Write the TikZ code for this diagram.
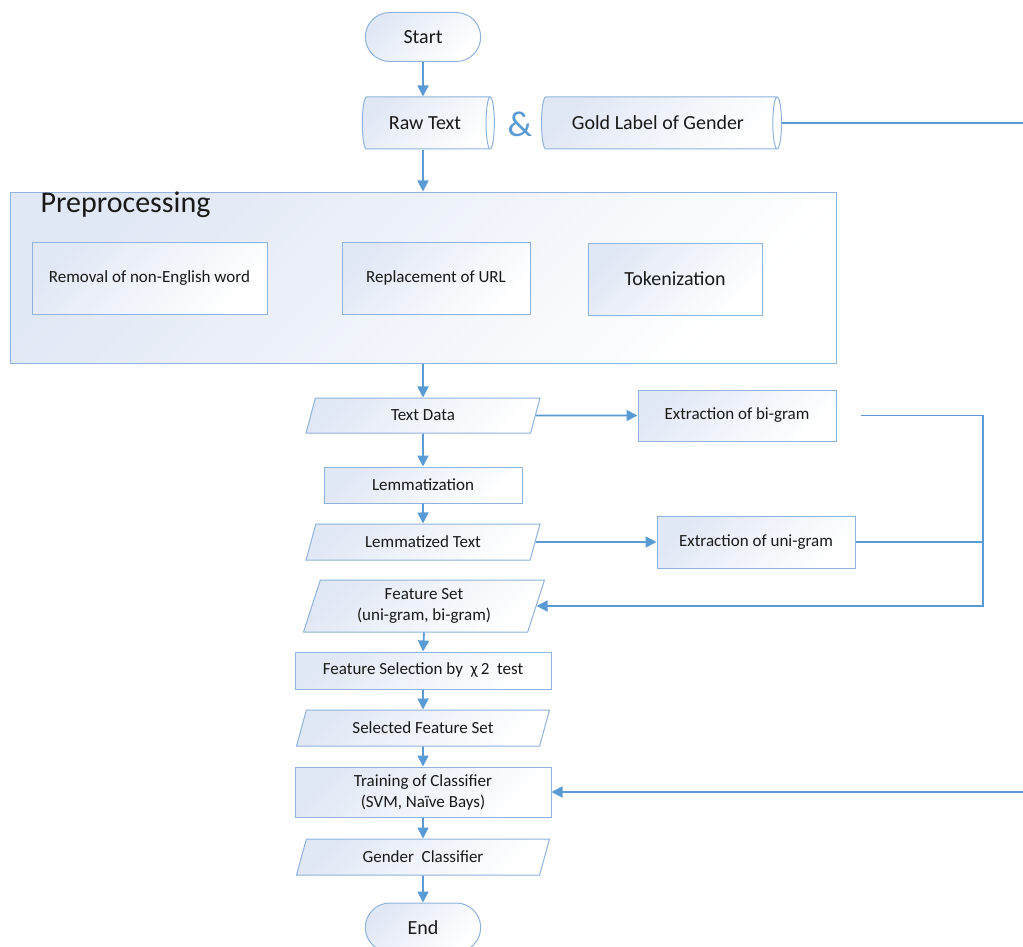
\documentclass[tikz,border=0pt]{standalone}
\usepackage{fontspec}
\setmainfont{Carlito}
\usetikzlibrary{shapes.geometric, shapes.misc, arrows.meta}
\definecolor{flowline}{HTML}{5B9BD5}
\definecolor{boxline}{HTML}{8FB3DC}
\definecolor{boxfill}{HTML}{E1E8F5}

\begin{document}
\begin{tikzpicture}[x=1pt, y=-1pt,
    every node/.style={text=black!90, font=\fontsize{17}{21}\selectfont},
    shaded/.style={draw=boxline, line width=1pt, top color=boxfill, bottom color=white, shading angle=45},
    terminal/.style={shaded, rounded rectangle, minimum width=122pt, minimum height=49pt, font=\fontsize{20}{24}\selectfont},
    store/.style={shaded, cylinder, aspect=0.42, minimum width=52pt, font=\fontsize{20}{24}\selectfont},
    process/.style={shaded, rectangle, align=center},
    data/.style={shaded, trapezium, trapezium left angle=62, trapezium right angle=118, trapezium stretches body, align=center},
    flow/.style={draw=flowline, line width=1.8pt, -{Triangle[length=11pt, width=11pt]}},
    link/.style={draw=flowline, line width=1.8pt}]

    \useasboundingbox (0,0) rectangle (1023,947);

    \node[terminal] (start) at (423,37) {Start};
    \node[store, minimum height=132pt] (raw) at (425,123) {Raw Text};
    \node[text=flowline, font=\fontsize{36}{40}\selectfont] (amp) at (520,124) {\&};
    \node[store, minimum height=240pt] (gold) at (658,123) {Gold Label of Gender};

    \node[shaded, minimum width=826pt, minimum height=171pt] (prep) at (423,277.5) {};
    \node[anchor=base west, font=\fontsize{30}{34}\selectfont] (preptitle) at (37,212) {Preprocessing};
    \node[process, minimum width=235pt, minimum height=72pt] (removal) at (149.5,278) {Removal of non-English word};
    \node[process, minimum width=188pt, minimum height=72pt] (url) at (436,278) {Replacement of URL};
    \node[process, minimum width=174pt, minimum height=72pt, font=\fontsize{20}{24}\selectfont] (token) at (675,279) {Tokenization};

    \node[data, minimum width=234pt, minimum height=35pt] (textdata) at (423,415.5) {Text Data};
    \node[process, minimum width=198pt, minimum height=51pt] (bigram) at (737,415.5) {Extraction of bi-gram};
    \node[process, minimum width=198pt, minimum height=36pt] (lemma) at (423,485) {Lemmatization};
    \node[data, minimum width=234pt, minimum height=36pt] (lemtext) at (423,542) {Lemmatized Text};
    \node[process, minimum width=198pt, minimum height=52pt] (unigram) at (756,542) {Extraction of uni-gram};
    \node[data, trapezium left angle=68, trapezium right angle=112, minimum width=241pt, minimum height=52pt] (featset) at (424,606) {Feature Set\\(uni-gram, bi-gram)};
    \node[process, minimum width=256pt, minimum height=37pt] (featsel) at (423,670.5) {Feature Selection by~ χ\,2~ test};
    \node[data, minimum width=253pt, minimum height=36pt] (selset) at (423,728) {Selected Feature Set};
    \node[process, minimum width=256pt, minimum height=50pt] (train) at (423,792) {Training of Classifier\\(SVM, Naïve Bays)};
    \node[data, minimum width=253pt, minimum height=36pt] (gender) at (423,857) {Gender~ Classifier};
    \node[terminal] (end) at (423,927.5) {End};

    \coordinate (bus) at (983,415.5);
    \coordinate (edge) at (1030,123);

    \draw[flow] (start) -- (start |- raw.north);
    \draw[flow] (start |- raw.south) -- (start |- prep.north);
    \draw[flow] (textdata.north |- prep.south) -- (textdata.north);
    \draw[flow] (textdata.east) -- (bigram.west);
    \draw[flow] (textdata.south) -- (lemma.north);
    \draw[flow] (lemma.south) -- (lemtext.north);
    \draw[flow] (lemtext.east) -- (unigram.west);
    \draw[flow] ([xshift=24pt]bigram.east) -- (bus) |- (featset.east);
    \draw[link] (unigram.east) -- (unigram.east -| bus);
    \draw[flow] (featset.south) -- (featsel.north);
    \draw[flow] (featsel.south) -- (selset.north);
    \draw[flow] (selset.south) -- (train.north);
    \draw[flow] (train.south) -- (gender.north);
    \draw[flow] (gender.south) -- (end.north);
    \draw[flow] (gold.east) -- (edge) |- (train.east);
\end{tikzpicture}
\end{document}
